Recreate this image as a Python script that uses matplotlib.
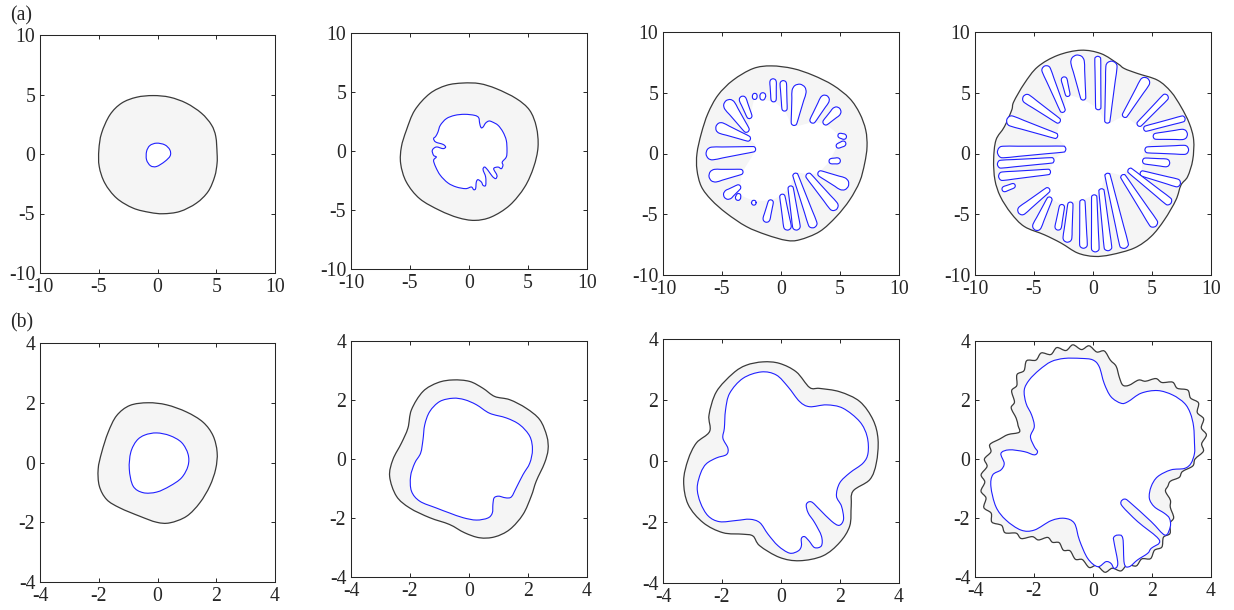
import numpy as np
import matplotlib.pyplot as plt
from matplotlib.path import Path
from matplotlib.patches import PathPatch

plt.rcParams['font.family'] = ['Liberation Serif', 'DejaVu Serif']

# ---------------- data ----------------
# (a) row
a1_out_x = [5.07, 4.96, 4.59, 3.74, 2.46, 1.05, -0.37, -1.78, -3.06, -4.05, -4.76, -4.99,
            -4.96, -4.48, -3.48, -2.07, -0.65, 0.48, 1.90, 3.31, 4.31, 4.87, 5.07]
a1_out_y = [0.07, 1.47, 2.45, 3.43, 4.27, 4.77, 4.91, 4.77, 4.27, 3.29, 1.75, 0.35,
            -1.05, -2.45, -3.71, -4.55, -4.91, -5.02, -4.83, -4.13, -3.15, -1.89, -0.77]
a1_in_x = [-0.08, 0.62, 1.05, 1.08, 0.62, -0.08, -0.59, -0.93, -0.93, -0.65]
a1_in_y = [0.91, 0.77, 0.35, -0.15, -0.63, -1.05, -0.99, -0.49, 0.21, 0.71]

a2_out_x = [5.85, 5.71, 5.14, 4.01, 2.32, 0.90, -0.51, -1.92, -3.33, -4.60, -5.31, -5.73,
            -5.79, -5.31, -4.18, -2.49, -0.93, 0.48, 1.89, 3.45, 4.72, 5.48]
a2_out_y = [0.34, 2.03, 3.45, 4.44, 5.28, 5.71, 5.76, 5.56, 4.86, 3.45, 1.75, 0.34,
            -1.07, -2.63, -4.04, -5.03, -5.65, -5.88, -5.59, -4.60, -3.05, -1.36]
a2_in_x = [3.22, 3.16, 2.88, 2.46, 1.98, 1.69, 1.41, 1.19, 1.02, 0.90, 0.82, 0.48, -0.37,
           -1.21, -1.92, -2.43, -2.63, -2.82, -3.0, -2.82, -2.20, -1.98, -2.20, -2.77, -3.11,
           -3.0, -2.77, -3.0, -2.82, -2.43, -1.78, -1.07, -0.28, 0.20, 0.40, 0.56, 0.62, 0.76,
           1.05, 1.19, 1.41, 1.41, 1.19, 1.33, 1.61, 1.98, 2.26, 2.37, 2.09, 2.46, 2.74, 2.88,
           2.82, 3.16]
a2_in_y = [0.06, 0.90, 1.61, 2.18, 2.46, 2.54, 2.37, 2.03, 1.98, 2.37, 2.82, 3.02, 3.11,
           3.02, 2.74, 2.18, 1.61, 1.24, 1.05, 0.76, 0.56, 0.34, 0.20, 0.34, 0.06,
           -0.37, -0.51, -0.79, -1.36, -2.06, -2.71, -3.05, -3.19, -3.05, -3.28, -3.19, -2.63,
           -2.43, -2.63, -2.91, -2.91, -2.20, -1.58, -1.36, -1.64, -2.15, -2.34, -2.06, -1.50,
           -1.36, -1.50, -1.21, -0.93, -0.51]

a3_out_x = [7.29, 7.18, 6.67, 5.82, 4.41, 2.71, 1.02, -0.82, -2.37, -4.07, -5.34, -6.19, -6.75,
            -7.12, -7.12, -6.75, -5.90, -4.63, -2.94, -1.24, 0.45, 1.58, 3.28, 4.69, 5.82, 6.67, 7.09]
a3_out_y = [0.56, 1.93, 3.30, 4.53, 5.62, 6.44, 6.99, 7.21, 6.99, 6.03, 4.80, 3.30, 1.66,
            0.01, -1.35, -2.72, -3.82, -4.91, -6.01, -6.69, -7.15, -7.10, -6.42, -5.19, -3.82, -2.31, -0.81]
# fingers: inner tip (x, y), outer tip (x, y), width near each tip
a3_fin_xi = [4.07, 4.69, 4.83, 3.62, 2.57, 1.07, 0.31, -0.62, -1.6, -2.25, -2.60, -2.80, -2.60,
             -2.15, -3.22, -3.45, -3.55, -2.30, -0.82, 0.08, 0.79, 1.16, 2.20, 3.14]
a3_fin_yi = [-0.64, 0.56, 1.52, 2.42, 2.53, 2.31, 3.49, 4.25, 4.4, 4.45, 2.89, 1.79, 1.16,
             0.37, -1.49, -2.67, -3.30, -3.85, -3.82, -3.35, -2.67, -1.63, -1.68, -1.57]
a3_fin_xo = [5.03, 5.48, 5.54, 4.97, 3.90, 1.63, 0.18, -0.68, -1.5, -2.2, -3.35, -4.65, -5.5,
             -6.35, -6.1, -4.8, -3.7, -2.3, -1.3, 0.6, 1.35, 2.8, 4.7, 5.7]
a3_fin_yo = [-0.59, 0.89, 1.33, 3.71, 4.75, 5.70, 6.0, 6.15, 5.0, 4.95, 4.7, 4.35, 2.25,
             -0.05, -1.9, -3.6, -3.85, -4.25, -5.65, -6.3, -6.3, -6.1, -4.6, -2.7]
a3_fin_wi = [0.45, 0.4, 0.4, 0.5, 0.5, 0.5, 0.45, 0.45, 0.45, 0.4, 0.45, 0.5, 0.45,
             0.45, 0.45, 0.45, 0.4, 0.4, 0.45, 0.45, 0.45, 0.45, 0.5, 0.5]
a3_fin_wo = [0.5, 0.45, 0.45, 0.8, 0.8, 1.2, 0.55, 0.55, 0.5, 0.4, 0.6, 1.0, 0.9,
             1.05, 1.05, 0.8, 0.45, 0.4, 0.6, 0.65, 0.65, 0.75, 0.8, 1.05]

a4_out_x = [8.53, 8.16, 7.46, 6.61, 5.48, 3.79, 2.66, 2.09, 0.68, -1.02, -2.99, -4.69, -5.82,
            -6.72, -6.89, -7.51, -8.22, -8.42, -8.31, -7.85, -6.95, -5.82, -4.12, -2.71, -1.30,
            0.11, 1.53, 3.50, 4.92, 6.05, 7.03, 7.46, 8.02, 8.45]
a4_out_y = [1.11, 2.48, 3.84, 5.08, 6.03, 6.58, 6.99, 7.40, 8.22, 8.50, 8.08, 7.13, 5.76,
            4.25, 3.57, 2.20, 1.11, -0.53, -2.18, -3.54, -4.91, -6.01, -6.69, -7.37, -8.19,
            -8.47, -8.33, -7.78, -6.83, -5.46, -3.82, -2.59, -1.90, -0.53]
a4_fin_xi = [5.1, 4.4, 4.2, 4.0, 3.0, 2.46, 1.19, 0.7, 0.1, -0.9, -1.9, -2.6, -3.6, -3.7,
             -6.6, -3.6, -3.3, -2.3, -3.0, -2.8, -2.5, -2.1, -0.8, 0.45, 1.2, 2.6, 3.8, 4.3]
a4_fin_yi = [1.4, 0.3, -0.6, -1.6, -1.3, -1.77, -1.63, -2.9, -3.4, -3.8, -4.0, -4.2, -3.6, -2.9,
             -2.6, -1.5, -0.55, 0.37, 1.4, 2.6, 3.4, 4.7, 4.4, 3.6, 2.5, 3.0, 2.3, 2.0]
a4_fin_xo = [8.0, 8.1, 6.5, 7.4, 6.6, 5.3, 2.7, 1.3, 0.2, -0.8, -2.2, -3.0, -4.9, -6.3,
             -7.7, -8.0, -8.1, -8.1, -7.3, -5.9, -4.1, -2.5, -1.4, 0.4, 1.6, 4.6, 6.3, 7.8]
a4_fin_yo = [1.6, 0.3, -0.8, -2.5, -4.1, -6.0, -7.8, -8.0, -8.1, -7.8, -7.3, -6.3, -6.3, -4.9,
             -3.0, -1.9, -0.9, 0.1, 2.8, 4.7, 7.2, 6.3, 8.1, 8.0, 7.6, 6.2, 4.8, 2.9]
a4_fin_wi = [0.5, 0.5, 0.5, 0.45, 0.45, 0.45, 0.45, 0.45, 0.45, 0.45, 0.45, 0.45, 0.45, 0.45,
             0.4, 0.45, 0.45, 0.5, 0.45, 0.45, 0.45, 0.4, 0.45, 0.45, 0.45, 0.45, 0.45, 0.45]
a4_fin_wo = [0.85, 0.75, 0.65, 0.65, 0.65, 0.75, 0.75, 0.65, 0.65, 0.65, 0.75, 0.55, 0.75, 0.75,
             0.45, 0.7, 0.65, 0.95, 0.85, 0.75, 0.75, 0.5, 1.15, 0.5, 0.95, 0.85, 0.55, 0.5]

# (b) row
b1_out_x = [-0.32, 0.31, 0.99, 1.55, 1.89, 2.03, 1.98, 1.78, 1.44, 0.99, 0.42, -0.03, -0.60,
            -1.28, -1.73, -1.98, -2.02, -1.90, -1.68, -1.39, -0.94]
b1_out_y = [2.0, 1.93, 1.69, 1.35, 0.90, 0.34, -0.22, -0.79, -1.35, -1.80, -2.02, -2.0, -1.80,
            -1.52, -1.24, -0.79, -0.22, 0.34, 1.01, 1.57, 1.91]
b1_in_x = [-0.03, 0.42, 0.82, 1.04, 1.04, 0.82, 0.42, -0.03, -0.49, -0.83, -0.96, -0.91, -0.71, -0.43]
b1_in_y = [0.99, 0.90, 0.67, 0.28, -0.11, -0.51, -0.79, -0.99, -1.01, -0.79, -0.22, 0.34, 0.73, 0.92]

b2_out_x = [-0.54, 0.02, 0.47, 0.87, 1.38, 1.94, 2.40, 2.64, 2.68, 2.56, 2.28, 2.11, 1.83, 1.38,
            0.87, 0.36, -0.15, -0.66, -1.33, -2.01, -2.46, -2.69, -2.58, -2.29, -2.07, -1.95, -1.56, -1.05]
b2_out_y = [2.68, 2.63, 2.40, 2.12, 2.01, 1.72, 1.33, 0.77, 0.32, -0.14, -0.75, -1.26, -1.88, -2.39,
            -2.64, -2.67, -2.50, -2.22, -1.99, -1.66, -1.26, -0.59, -0.02, 0.54, 1.05, 1.67, 2.29, 2.59]
b2_in_x = [-0.54, -0.15, 0.25, 0.70, 1.27, 1.72, 2.06, 2.15, 2.06, 1.83, 1.60, 1.44, 1.27, 1.10,
           0.98, 0.85, 0.81, 0.79, 0.64, 0.25, -0.2, -0.66, -1.11, -1.67, -1.95, -1.98, -1.84, -1.64,
           -1.56, -1.50, -1.33, -0.99]
b2_in_y = [2.06, 2.01, 1.84, 1.55, 1.39, 1.16, 0.77, 0.32, -0.14, -0.53, -0.98, -1.28, -1.32, -1.28,
           -1.26, -1.32, -1.54, -1.83, -2.0, -2.07, -1.99, -1.83, -1.66, -1.43, -1.09, -0.59, -0.14, 0.20,
           0.65, 1.16, 1.61, 1.95]

b3_out_x = [3.23, 3.29, 3.12, 2.67, 1.99, 1.31, 0.97, 0.52, -0.05, -0.61, -1.18, -1.63, -2.19, -2.44,
            -2.42, -2.87, -3.15, -3.30, -3.15, -2.64, -1.97, -1.29, -0.95, -0.72, -0.05, 0.63, 1.42,
            1.99, 2.33, 2.38, 2.44, 3.01]
b3_out_y = [-0.07, 0.70, 1.35, 1.95, 2.27, 2.38, 2.41, 2.92, 3.20, 3.25, 3.14, 2.87, 2.27, 1.51,
            0.97, 0.59, 0.04, -0.66, -1.42, -2.02, -2.35, -2.40, -2.46, -2.78, -3.16, -3.27, -3.11,
            -2.67, -2.13, -1.48, -0.99, -0.61]
b3_in_x = [2.95, 2.92, 2.67, 2.10, 1.54, 0.97, 0.63, 0.24, -0.16, -0.67, -1.29, -1.74, -1.88, -1.92,
           -1.97, -1.80, -1.85, -2.19, -2.53, -2.72, -2.84, -2.73, -2.47, -2.08, -1.51, -1.06, -0.72,
           -0.44, -0.10, 0.29, 0.58, 0.69, 0.69, 0.80, 0.95, 1.14, 1.37, 1.37, 1.14, 0.92, 0.86, 1.03,
           1.31, 1.71, 1.97, 2.12, 2.05, 1.88, 1.99, 2.33, 2.78]
b3_in_y = [0.26, 0.80, 1.29, 1.73, 1.84, 1.78, 1.95, 2.43, 2.82, 2.92, 2.71, 2.22, 1.67, 1.08,
           0.75, 0.42, 0.21, 0.10, -0.09, -0.39, -0.88, -1.37, -1.80, -1.99, -1.95, -1.91, -2.02,
           -2.40, -2.78, -3.02, -2.95, -2.79, -2.54, -2.48, -2.62, -2.84, -2.78, -2.46, -2.02, -1.70,
           -1.42, -1.34, -1.59, -1.97, -2.11, -1.91, -1.48, -1.15, -0.72, -0.39, -0.07]

# b4 outer front: radius every 4 degrees (wrinkled edge)
b4_out_deg = list(range(0, 360, 4))
b4_out_r = [3.46, 3.75, 3.72, 3.93, 3.82, 3.99, 3.87, 4.05, 3.90, 3.97,
            3.73, 3.75, 3.49, 3.46, 3.18, 3.09, 2.78, 2.70, 2.90, 3.24,
            3.40, 3.68, 3.63, 3.84, 3.73, 3.93, 3.79, 3.97, 3.82, 4.00,
            3.87, 4.02, 3.80, 3.85, 3.59, 3.60, 3.29, 3.27, 2.95, 2.78,
            2.66, 3.00, 3.24, 3.53, 3.47, 3.68, 3.60, 3.83, 3.75, 3.95,
            3.86, 4.05, 3.91, 4.04, 3.83, 3.89, 3.62, 3.63, 3.34, 3.31,
            3.07, 3.14, 3.06, 3.25, 3.21, 3.45, 3.43, 3.68, 3.61, 3.86,
            3.76, 3.91, 3.77, 3.91, 3.77, 3.90, 3.73, 3.79, 3.57, 3.63,
            3.40, 3.38, 3.09, 2.97, 2.69, 2.70, 2.73, 2.99, 3.06, 3.39]
b4_in_x = [3.44, 3.41, 3.30, 3.10, 2.70, 2.19, 1.63, 1.18, 0.95, 0.61, 0.38, 0.21, -0.01, -0.41,
           -0.97, -1.42, -1.82, -2.16, -2.33, -2.27, -2.08, -1.99, -2.12, -1.99, -1.88, -1.99, -2.33,
           -2.84, -3.12, -3.01, -3.12, -3.40, -3.46, -3.29, -2.95, -2.44, -1.99, -1.42, -0.97, -0.63,
           -0.46, -0.18, 0.16, 0.44, 0.61, 0.72, 0.84, 0.72, 0.70, 0.84, 1.01, 1.06, 1.23, 1.51, 1.85,
           1.97, 2.25, 1.51, 1.01, 0.95, 1.06, 1.23, 1.97, 2.44, 2.62, 2.59, 2.42, 2.08, 1.91, 1.97,
           2.19, 2.64, 3.10, 3.32, 3.44]
b4_in_y = [0.53, 1.10, 1.55, 1.89, 2.17, 2.32, 2.23, 1.94, 1.89, 2.11, 2.56, 3.13, 3.36, 3.41,
           3.41, 3.30, 3.02, 2.68, 2.34, 1.89, 1.49, 1.10, 0.76, 0.42, 0.25, 0.14, 0.25,
           0.31, 0.19, -0.15, -0.37, -0.54, -0.94, -1.62, -2.07, -2.41, -2.41, -2.09, -2.01, -2.18,
           -2.75, -3.37, -3.65, -3.48, -3.54, -3.71, -3.54, -2.86, -2.66, -2.58, -2.69, -3.54, -3.65,
           -3.42, -3.20, -3.03, -2.75, -2.12, -1.62, -1.45, -1.36, -1.45, -2.12, -2.58, -2.29, -2.01,
           -1.84, -1.62, -1.33, -0.94, -0.60, -0.37, -0.32, -0.15, 0.19]

ticks_a = [-10, -5, 0, 5, 10]
ticks_b = [-4, -2, 0, 2, 4]

GRAY = '#f5f5f5'
EDGE = '#3a3a3a'
BLUE = '#2020ff'


# ---------------- helpers ----------------
def smooth_path(x, y):
    # closed Catmull-Rom curve through the points, drawn as cubic Bezier segments
    p = np.column_stack([x, y]).astype(float)
    n = len(p)
    verts, codes = [p[0]], [Path.MOVETO]
    for i in range(n):
        p0, p1, p2, p3 = p[i - 1], p[i], p[(i + 1) % n], p[(i + 2) % n]
        verts += [p1 + (p2 - p0) / 6, p2 - (p3 - p1) / 6, p2]
        codes += [Path.CURVE4] * 3
    verts.append(p[0])
    codes.append(Path.CLOSEPOLY)
    return Path(verts, codes)


def finger_outline(ti, to, wi, wo):
    # rounded loop between an inner tip and an outer tip
    ti, to = np.asarray(ti, float), np.asarray(to, float)
    u = (to - ti) / np.linalg.norm(to - ti)
    n = np.array([-u[1], u[0]])
    ri, ro = wi / 2, wo / 2
    a, b = ti + ri * u, to - ro * u
    side = [(s, a + (b - a) * s, ri + (ro - ri) * s) for s in (0.25, 0.5, 0.75)]
    pts = [b + ro * u, b + ro * 0.71 * (u + n), b + ro * n]
    pts += [c + h * n for s, c, h in side[::-1]]
    pts += [a + ri * n, a + ri * 0.71 * (n - u), a - ri * u, a - ri * 0.71 * (n + u), a - ri * n]
    pts += [c - h * n for s, c, h in side]
    pts += [b - ro * n, b + ro * 0.71 * (u - n)]
    pts = np.array(pts)
    return pts[:, 0], pts[:, 1]


def style_axes(ax, lim, ticks):
    ax.set_xlim(-lim, lim)
    ax.set_ylim(-lim, lim)
    ax.set_xticks(ticks)
    ax.set_yticks(ticks)
    ax.set_xticklabels([str(t) for t in ticks])
    ax.set_yticklabels([str(t) for t in ticks])
    ax.tick_params(direction='in', length=3, width=0.7, top=True, right=True,
                   labelsize=14.2, colors='#262626', pad=3.5)
    for s in ax.spines.values():
        s.set_color('#262626')
        s.set_linewidth(0.75)


def draw_simple(ax, outer, inner):
    ax.add_patch(PathPatch(smooth_path(*outer), facecolor=GRAY, edgecolor=EDGE, lw=0.9))
    ax.add_patch(PathPatch(smooth_path(*inner), facecolor='white', edgecolor=BLUE, lw=0.8))


def draw_fingered(ax, outer, xi, yi, xo, yo, wi, wo):
    ax.add_patch(PathPatch(smooth_path(*outer), facecolor=GRAY, edgecolor=EDGE, lw=0.9))
    xi, yi = np.asarray(xi, float), np.asarray(yi, float)
    # white core spanned by the inner tips
    keep = np.hypot(xi, yi) < 6
    cx, cy = xi[keep], yi[keep]
    order = np.argsort(np.arctan2(cy, cx))
    ax.add_patch(PathPatch(smooth_path(cx[order], cy[order]), facecolor='white',
                           edgecolor='none'))
    for k in range(len(xi)):
        fx, fy = finger_outline((xi[k], yi[k]), (xo[k], yo[k]), wi[k], wo[k])
        ax.add_patch(PathPatch(smooth_path(fx, fy), facecolor='white', edgecolor=BLUE, lw=0.8))


# ---------------- figure ----------------
W, H = 1234, 610
fig = plt.figure(figsize=(W / 100, H / 100), dpi=100)


def add_ax(l, t, r, b):
    return fig.add_axes([l / W, 1 - b / H, (r - l) / W, (b - t) / H])


th = np.deg2rad(b4_out_deg)
b4_out = (np.array(b4_out_r) * np.cos(th), np.array(b4_out_r) * np.sin(th))

ax = add_ax(40, 35, 275, 273)
draw_simple(ax, (a1_out_x, a1_out_y), (a1_in_x, a1_in_y))
style_axes(ax, 10, ticks_a)

ax = add_ax(351, 33, 587, 269)
draw_simple(ax, (a2_out_x, a2_out_y), (a2_in_x, a2_in_y))
style_axes(ax, 10, ticks_a)

ax = add_ax(663, 32, 899, 275)
draw_fingered(ax, (a3_out_x, a3_out_y), a3_fin_xi, a3_fin_yi, a3_fin_xo, a3_fin_yo,
              a3_fin_wi, a3_fin_wo)
style_axes(ax, 10, ticks_a)

ax = add_ax(975, 32, 1211, 275)
draw_fingered(ax, (a4_out_x, a4_out_y), a4_fin_xi, a4_fin_yi, a4_fin_xo, a4_fin_yo,
              a4_fin_wi, a4_fin_wo)
style_axes(ax, 10, ticks_a)

ax = add_ax(40, 343, 275, 582)
draw_simple(ax, (b1_out_x, b1_out_y), (b1_in_x, b1_in_y))
style_axes(ax, 4, ticks_b)

ax = add_ax(351, 341, 587, 577)
draw_simple(ax, (b2_out_x, b2_out_y), (b2_in_x, b2_in_y))
style_axes(ax, 4, ticks_b)

ax = add_ax(663, 339, 899, 583)
draw_simple(ax, (b3_out_x, b3_out_y), (b3_in_x, b3_in_y))
style_axes(ax, 4, ticks_b)

ax = add_ax(975, 341, 1211, 577)
draw_simple(ax, b4_out, (b4_in_x, b4_in_y))
style_axes(ax, 4, ticks_b)

fig.text(10 / W, 1 - 16 / H, '(a)', fontsize=14.2, color='#262626', va='center', ha='left')
fig.text(10 / W, 1 - 323 / H, '(b)', fontsize=14.2, color='#262626', va='center', ha='left')

fig.savefig('out.png', dpi=100)
